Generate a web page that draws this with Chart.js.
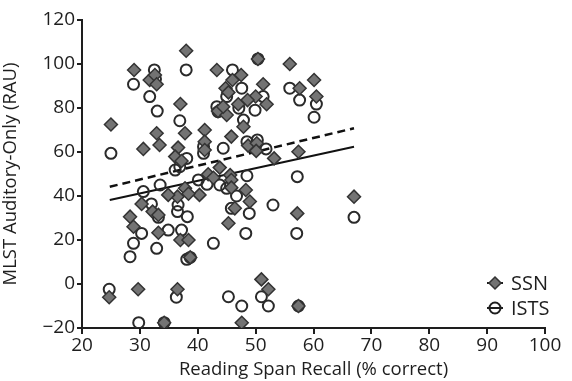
<!DOCTYPE html>
<html>
<head>
<meta charset="utf-8">
<script src="https://cdn.jsdelivr.net/npm/chart.js@4.4.1/dist/chart.umd.min.js"></script>
<style>
  html, body { margin: 0; padding: 0; background: #fff; }
  #wrap { width: 572px; height: 381px; }
</style>
</head>
<body>
<div id="wrap"><canvas id="spanChart" width="572" height="381"></canvas></div>
<script>
// reading span recall (% correct) vs MLST auditory-only score (RAU)
const ssnRecall = [25, 24.7, 29, 31.7, 32.6, 32.9, 38, 37, 43.3, 46, 47.5, 44.8, 45.3, 51.3, 50, 48.6,
    51.9, 47, 43.5, 45, 44.4, 47.9, 41.2, 45.8, 50.4, 55.9, 57.6, 60.1, 60.5, 30.6, 32.9, 33.4,
    37.8, 36.6, 36.1, 37.2, 41.2, 41.2, 48.7, 50.2, 50.1, 53.2, 57.4, 43.8, 41.8, 42.7, 45.6, 45.8,
    45.8, 37.8, 48.3, 40.3, 36.5, 38.4, 34.9, 49, 46.4, 30.3, 32.2, 33.2, 28.3, 28.9, 33.2, 37,
    38.4, 38.7, 45.3, 57.2, 67, 29.7, 36.5, 34.2, 47.6, 51, 52.2, 57.4];
const ssnScore = [72.5, -6, 97.3, 92.7, 95, 90.8, 106, 81.8, 97.3, 92.7, 95, 89, 87.1, 90.8, 85.2, 83.6,
    81.7, 81.7, 78.6, 76.8, 80.6, 71.5, 70, 67, 102.3, 100, 89, 92.7, 85.2, 61.4, 68.5, 63.2,
    68.5, 62, 57.9, 55.9, 64.7, 60.9, 62.9, 64, 60.5, 57.1, 60.1, 52.9, 49.9, 48.3, 49.5, 47.3,
    43.8, 43.5, 42.7, 40.5, 39.7, 41, 40.5, 37.5, 34.4, 36.4, 32.9, 31.4, 30.6, 26, 23.3, 20,
    20, 12.1, 27.6, 32.1, 39.7, -2.4, -2.4, -17.6, -17.6, 2.1, -2.4, -10];

const istsRecall = [24.7, 25, 28.9, 32.5, 32.7, 31.7, 33, 38, 36.9, 46, 47.6, 45, 51.3, 47.1, 49.9, 43.3,
    43.5, 47.9, 50.4, 55.9, 57.6, 60.5, 60.1, 41, 41, 44.4, 48.5, 50.3, 51.8, 38.1, 36.1, 36.9,
    40.1, 41.6, 43.8, 48.5, 45, 46.7, 57.2, 30.6, 33.5, 32, 33.2, 36.5, 38.2, 36.6, 30.3, 34.9,
    37.2, 28.9, 32.9, 28.3, 38.1, 38.7, 45.8, 48.9, 48.3, 53, 42.7, 57.1, 67, 36.3, 29.8, 34.2,
    45.3, 47.6, 51, 52.2, 57.4];
const istsScore = [-2.4, 59.4, 90.8, 97.3, 93.2, 85.2, 78.6, 97.3, 74.2, 97.3, 89, 85.2, 85.2, 79.9, 79, 80.6,
    78.3, 74.5, 102.3, 89, 83.6, 81.8, 75.8, 62.4, 59.4, 61.7, 64.7, 65.5, 61.4, 57.1, 51.8, 53.3,
    47.3, 45.3, 45, 49.2, 43.5, 40, 48.8, 42, 45, 36.4, 30.3, 32.9, 30.6, 35.9, 23, 24.5,
    24.5, 18.5, 16.2, 12.4, 11.2, 12.1, 34.4, 32.1, 23, 35.9, 18.5, 23, 30.3, -6, -17.6, -17.6,
    -5.8, -10, -5.8, -10, -10];

// fitted regression lines (end points)
const fitRecall = [24.8, 67];
const ssnFit = [38.2, 62.4];
const istsFit = [44.2, 70.8];

const xTicks = [20, 30, 40, 50, 60, 70, 80, 90, 100];
const yTicks = [-20, 0, 20, 40, 60, 80, 100, 120];

const FONT = 'Open Sans';
const INK = '#1e1e1e';

function pairs(xs, ys) {
    return xs.map((x, i) => ({ x: x, y: ys[i] }));
}

// legend drawn inside the plot, bottom right
const cornerLegend = {
    id: 'cornerLegend',
    afterDraw(chart) {
        const ctx = chart.ctx;
        const area = chart.chartArea;
        const rows = [
            { label: 'SSN', shape: 'diamond' },
            { label: 'ISTS', shape: 'circle' }
        ];
        ctx.save();
        rows.forEach((row, i) => {
            const cx = area.right - 50;
            const cy = area.bottom - 45 + i * 25;
            ctx.strokeStyle = INK;
            ctx.lineWidth = 2;
            ctx.beginPath();
            ctx.moveTo(cx - 8, cy);
            ctx.lineTo(cx + 8, cy);
            ctx.stroke();
            ctx.beginPath();
            if (row.shape === 'diamond') {
                ctx.moveTo(cx, cy - 6);
                ctx.lineTo(cx + 6, cy);
                ctx.lineTo(cx, cy + 6);
                ctx.lineTo(cx - 6, cy);
                ctx.closePath();
                ctx.fillStyle = '#727272';
                ctx.fill();
                ctx.lineWidth = 1.5;
                ctx.strokeStyle = '#333';
                ctx.stroke();
            } else {
                ctx.arc(cx, cy, 5.5, 0, Math.PI * 2);
                ctx.lineWidth = 2;
                ctx.stroke();
            }
            ctx.fillStyle = INK;
            ctx.font = '20px "' + FONT + '"';
            ctx.textBaseline = 'middle';
            ctx.textAlign = 'left';
            ctx.fillText(row.label, cx + 16, cy + 1);
        });
        ctx.restore();
    }
};

const ctx = document.getElementById('spanChart').getContext('2d');
const chart = new Chart(ctx, {
    type: 'scatter',
    data: {
        datasets: [
            {
                label: 'SSN',
                data: pairs(ssnRecall, ssnScore),
                pointStyle: 'rectRot',
                pointRadius: 6.5,
                backgroundColor: '#737373',
                borderColor: '#333',
                borderWidth: 1.5
            },
            {
                label: 'ISTS',
                data: pairs(istsRecall, istsScore),
                pointStyle: 'circle',
                pointRadius: 5.5,
                backgroundColor: 'rgba(255,255,255,0)',
                borderColor: '#2a2a2a',
                borderWidth: 2
            },
            {
                label: 'SSN fit',
                type: 'line',
                data: pairs(fitRecall, ssnFit),
                borderColor: '#111',
                borderWidth: 2,
                pointRadius: 0,
                fill: false
            },
            {
                label: 'ISTS fit',
                type: 'line',
                data: pairs(fitRecall, istsFit),
                borderColor: '#111',
                borderWidth: 2.5,
                borderDash: [8, 5],
                pointRadius: 0,
                fill: false
            }
        ]
    },
    options: {
        responsive: false,
        animation: false,
        layout: { padding: { top: 20, right: 27, left: 0, bottom: 0 } },
        plugins: {
            legend: { display: false },
            tooltip: { enabled: false }
        },
        scales: {
            x: {
                type: 'linear',
                min: 20,
                max: 100,
                afterBuildTicks: (scale) => { scale.ticks = xTicks.map(v => ({ value: v })); },
                afterFit: (scale) => { scale.height = 53; },
                ticks: {
                    color: INK,
                    padding: 0,
                    font: { family: FONT, size: 19 }
                },
                grid: { drawOnChartArea: false, tickLength: 6, color: INK, lineWidth: 2 },
                border: { color: INK, width: 2 },
                title: {
                    display: true,
                    text: 'Reading Span Recall (% correct)',
                    color: INK,
                    padding: { top: 0, bottom: 0 },
                    font: { family: FONT, size: 18.5 }
                }
            },
            y: {
                type: 'linear',
                min: -20,
                max: 120,
                afterBuildTicks: (scale) => { scale.ticks = yTicks.map(v => ({ value: v })); },
                afterFit: (scale) => { scale.width = 82; },
                ticks: {
                    color: INK,
                    padding: 2,
                    font: { family: FONT, size: 19 },
                    callback: (v) => (v < 0 ? '\u2212' + Math.abs(v) : String(v))
                },
                grid: { drawOnChartArea: false, tickLength: 5, color: INK, lineWidth: 2 },
                border: { color: INK, width: 2 },
                title: {
                    display: true,
                    text: 'MLST Auditory-Only (RAU)',
                    color: INK,
                    padding: { top: 0, bottom: 0 },
                    font: { family: FONT, size: 18.5 }
                }
            }
        }
    },
    plugins: [cornerLegend]
});
</script>
</body>
</html>
